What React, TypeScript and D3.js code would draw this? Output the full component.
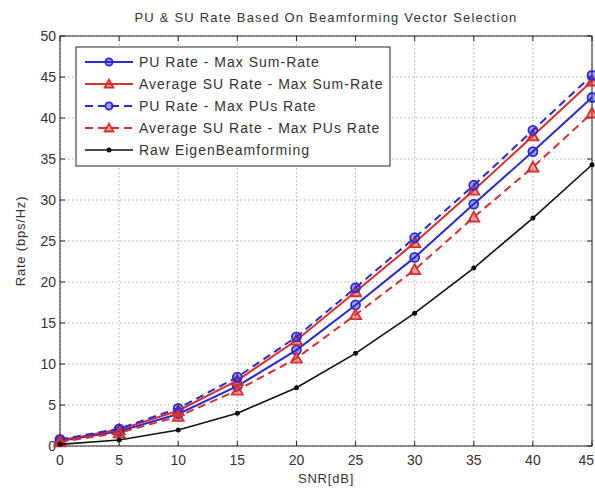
import * as d3 from 'd3';

const snr = [0, 5, 10, 15, 20, 25, 30, 35, 40, 45];

const puMaxSum = [0.6, 1.8, 3.9, 7.3, 11.7, 17.2, 23.0, 29.5, 35.9, 42.5];
const suMaxSum = [0.7, 2.0, 4.3, 8.0, 12.9, 18.8, 24.8, 31.2, 37.8, 44.5];
const puMaxPus = [0.8, 2.1, 4.6, 8.4, 13.3, 19.3, 25.4, 31.8, 38.5, 45.2];
const suMaxPus = [0.5, 1.6, 3.6, 6.8, 10.7, 16.0, 21.5, 27.9, 34.0, 40.6];
const rawEigen = [0.2, 0.73, 1.95, 4.0, 7.1, 11.3, 16.2, 21.7, 27.8, 34.3];

const xTicks = [0, 5, 10, 15, 20, 25, 30, 35, 40, 45];
const yTicks = [0, 5, 10, 15, 20, 25, 30, 35, 40, 45, 50];

const seriesNames = [
  'PU Rate - Max Sum-Rate',
  'Average SU Rate - Max Sum-Rate',
  'PU Rate - Max PUs Rate',
  'Average SU Rate - Max PUs Rate',
  'Raw EigenBeamforming',
];

const BLUE = '#2a2ad0';
const RED = '#d8302c';

const series = [
  { name: seriesNames[0], values: puMaxSum, color: BLUE, dash: '', marker: 'circle' },
  { name: seriesNames[1], values: suMaxSum, color: RED, dash: '', marker: 'triangle' },
  { name: seriesNames[2], values: puMaxPus, color: BLUE, dash: '8,5', marker: 'circle' },
  { name: seriesNames[3], values: suMaxPus, color: RED, dash: '8,5', marker: 'triangle' },
  { name: seriesNames[4], values: rawEigen, color: '#111', dash: '', marker: 'dot' },
];

const W = 595;
const H = 490;
const margin = { left: 60, right: 3, top: 36, bottom: 44 };

function Marker({ type, x, y, color, s = 1 }: { type: string; x: number; y: number; color: string; s?: number }) {
  if (type === 'circle') {
    return <circle cx={x} cy={y} r={4.5 * s} fill={color} fillOpacity={0.45} stroke={color} strokeWidth={1.8} />;
  }
  if (type === 'triangle') {
    const r = 5.5 * s;
    const pts = `${x},${y - r} ${x - r},${y + r * 0.8} ${x + r},${y + r * 0.8}`;
    return <polygon points={pts} fill={color} fillOpacity={0.45} stroke={color} strokeWidth={1.8} />;
  }
  return <circle cx={x} cy={y} r={2.5} fill={color} />;
}

export default function App() {
  const x = d3.scaleLinear().domain([0, 45]).range([margin.left, W - margin.right]);
  const y = d3.scaleLinear().domain([0, 50]).range([H - margin.bottom, margin.top]);

  const line = d3
    .line<number>()
    .x((_, i) => x(snr[i]))
    .y((d) => y(d));

  const font = 'Liberation Sans, Arial, sans-serif';
  const textColor = '#333';
  const x0 = x(0);
  const x1 = x(45);
  const yTop = y(50);
  const yBot = y(0);

  // legend box
  const lg = { x: 76, y: 47, w: 314, h: 119 };
  const rowY = [62, 84, 106, 128, 150];

  return (
    <svg width={W} height={H} style={{ position: 'absolute', left: 0, top: 0, background: '#fff' }} fontFamily={font}>
      <rect width={W} height={H} fill="#fff" />
      {/* grid */}
      {xTicks.map((t) => (
        <line key={'gx' + t} x1={x(t)} x2={x(t)} y1={yTop} y2={yBot} stroke="#999" strokeWidth={0.8} strokeDasharray="1.5,2.5" />
      ))}
      {yTicks.map((t) => (
        <line key={'gy' + t} x1={x0} x2={x1} y1={y(t)} y2={y(t)} stroke="#999" strokeWidth={0.8} strokeDasharray="1.5,2.5" />
      ))}
      {/* axes box */}
      <rect x={x0} y={yTop} width={x1 - x0} height={yBot - yTop} fill="none" stroke="#222" strokeWidth={1} />
      {xTicks.map((t, i) => (
        <g key={'tx' + t}>
          <line x1={x(t)} x2={x(t)} y1={yBot} y2={yBot - 5} stroke="#222" />
          <line x1={x(t)} x2={x(t)} y1={yTop} y2={yTop + 5} stroke="#222" />
          <text
            x={i === xTicks.length - 1 ? W - 1 : x(t)}
            y={yBot + 19}
            textAnchor={i === xTicks.length - 1 ? 'end' : 'middle'}
            fontSize={14}
            fill={textColor}
          >
            {t}
          </text>
        </g>
      ))}
      {yTicks.map((t) => (
        <g key={'ty' + t}>
          <line x1={x0} x2={x0 + 5} y1={y(t)} y2={y(t)} stroke="#222" />
          <line x1={x1} x2={x1 - 5} y1={y(t)} y2={y(t)} stroke="#222" />
          <text x={x0 - 4} y={y(t) + 5} textAnchor="end" fontSize={14} fill={textColor}>{t}</text>
        </g>
      ))}
      {/* series */}
      {series.map((s) => (
        <g key={s.name}>
          <path d={line(s.values) || ''} fill="none" stroke={s.color} strokeWidth={s.marker === 'dot' ? 1.6 : 2} strokeDasharray={s.dash} />
          {s.values.map((v, i) => (
            <Marker key={i} type={s.marker} x={x(snr[i])} y={y(v)} color={s.color} />
          ))}
        </g>
      ))}
      {/* legend */}
      <rect x={lg.x} y={lg.y} width={lg.w} height={lg.h} fill="#fff" stroke="#222" strokeWidth={1} />
      {series.map((s, i) => (
        <g key={'lg' + i}>
          <line x1={85} x2={133} y1={rowY[i]} y2={rowY[i]} stroke={s.color} strokeWidth={s.marker === 'dot' ? 1.6 : 2} strokeDasharray={s.dash} />
          <Marker type={s.marker} x={109} y={rowY[i]} color={s.color} s={0.8} />
          <text x={139} y={rowY[i] + 5} fontSize={14} letterSpacing={1} fill={textColor}>{s.name}</text>
        </g>
      ))}
      {/* labels */}
      <text x={(x0 + x1) / 2} y={22} textAnchor="middle" fontSize={13} letterSpacing={1.2} fill={textColor}>
        PU &amp; SU Rate Based On Beamforming Vector Selection
      </text>
      <text x={(x0 + x1) / 2} y={483} textAnchor="middle" fontSize={13} letterSpacing={0.8} fill={textColor}>SNR[dB]</text>
      <text
        transform={`translate(25,${(yTop + yBot) / 2}) rotate(-90)`}
        textAnchor="middle"
        fontSize={13}
        letterSpacing={0.8}
        fill={textColor}
      >
        Rate (bps/Hz)
      </text>
    </svg>
  );
}
